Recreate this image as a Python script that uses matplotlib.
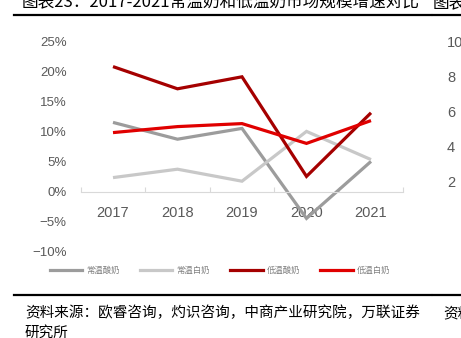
import matplotlib.pyplot as plt
from matplotlib.lines import Line2D
import numpy as np

plt.rcParams['font.family'] = ['Liberation Sans', 'Noto Sans CJK SC', 'DejaVu Sans']
plt.rcParams['axes.unicode_minus'] = True

# growth rate of each segment, %
years = ['2017', '2018', '2019', '2020', '2021']
ambient_yogurt = [11.6, 8.8, 10.6, -4.4, 5.1]   # 常温酸奶
ambient_milk   = [2.4, 3.8, 1.8, 10.1, 5.4]     # 常温白奶
chilled_yogurt = [20.9, 17.2, 19.2, 2.6, 13.2]  # 低温酸奶
chilled_milk   = [9.9, 10.9, 11.4, 8.1, 11.9]   # 低温白奶
series_names = ['常温酸奶', '常温白奶', '低温酸奶', '低温白奶']
yticks = [-10, -5, 0, 5, 10, 15, 20, 25]
right_ticks = ['10', '8', '6', '4', '2']

colors = ['#9c9c9c', '#c8c8c8', '#a50000', '#e00000']
cjk = ['Noto Sans CJK SC', 'DejaVu Sans']

W, H = 461, 338
fig = plt.figure(figsize=(W / 100, H / 100), dpi=100)

def fx(px):
    return px / W

def fy(py):
    return 1 - py / H

# plot area: x from 80.75 to 403.25 px, y from 42 (25%) to 252 (-10%)
ax = fig.add_axes([fx(80.75), fy(252), fx(403.25) - fx(80.75), (252 - 42) / H])
x = np.arange(len(years))
for vals, c in zip([ambient_yogurt, ambient_milk, chilled_yogurt, chilled_milk], colors):
    ax.plot(x, vals, color=c, lw=2.3, solid_capstyle='butt', solid_joinstyle='miter')

ax.set_xlim(-0.5, len(years) - 0.5)
ax.set_ylim(-10, 25)
ax.set_yticks(yticks)
ax.set_yticklabels([f'{v}%'.replace('-', '\u2212') for v in yticks],
                   fontsize=9.5, color='#595959')
ax.tick_params(axis='y', length=0, pad=10)

for s in ['top', 'right', 'left']:
    ax.spines[s].set_visible(False)
ax.spines['bottom'].set_position(('data', 0))
ax.spines['bottom'].set_color('#d9d9d9')
ax.spines['bottom'].set_linewidth(0.8)
ax.set_xticks(x)
ax.set_xticklabels(years, fontsize=10.5, color='#595959')
ax.tick_params(axis='x', length=0, pad=10)
ax.set_xticks(np.arange(-0.5, len(years), 1), minor=True)
ax.tick_params(axis='x', which='minor', direction='in', length=3.5,
               color='#d9d9d9', width=0.8)

# legend row
handles = [Line2D([], [], color=c, lw=2.3) for c in colors]
leg = fig.legend(handles, series_names, loc='center', ncol=4,
                 bbox_to_anchor=(fx(220), fy(270)), frameon=False,
                 prop={'family': cjk, 'size': 6}, handlelength=3.9,
                 handletextpad=0.5, columnspacing=2.4, labelcolor='#7f7f7f')

# title (clipped by the top edge) and rules
fig.text(fx(22), fy(3), '图表23：2017-2021常温奶和低温奶市场规模增速对比',
         family=cjk, fontsize=12, color='#000000', va='center', ha='left')
fig.text(fx(433), fy(3), '图表', family=cjk, fontsize=12, va='center', ha='left')
for yy in [15, 294.5]:
    fig.add_artist(Line2D([fx(14), fx(431)], [fy(yy), fy(yy)], color='black', lw=1.6))
    fig.add_artist(Line2D([fx(433), fx(461)], [fy(yy), fy(yy)], color='black', lw=1.6))

# partial tick labels of the next chart
for i, t in enumerate(right_ticks):
    fig.text(fx(447), fy(43 + i * 35), t, fontsize=10.5, color='#595959',
             va='center', ha='left')

# source note
fig.text(fx(25), fy(313), '资料来源：欧睿咨询，灼识咨询，中商产业研究院，万联证券',
         family=cjk, fontsize=10.5, va='center', ha='left')
fig.text(fx(25), fy(333), '研究所', family=cjk, fontsize=10.5, va='center', ha='left')
fig.text(fx(443), fy(313), '资料', family=cjk, fontsize=10.5, va='center', ha='left')

fig.savefig('out.png', dpi=100)
